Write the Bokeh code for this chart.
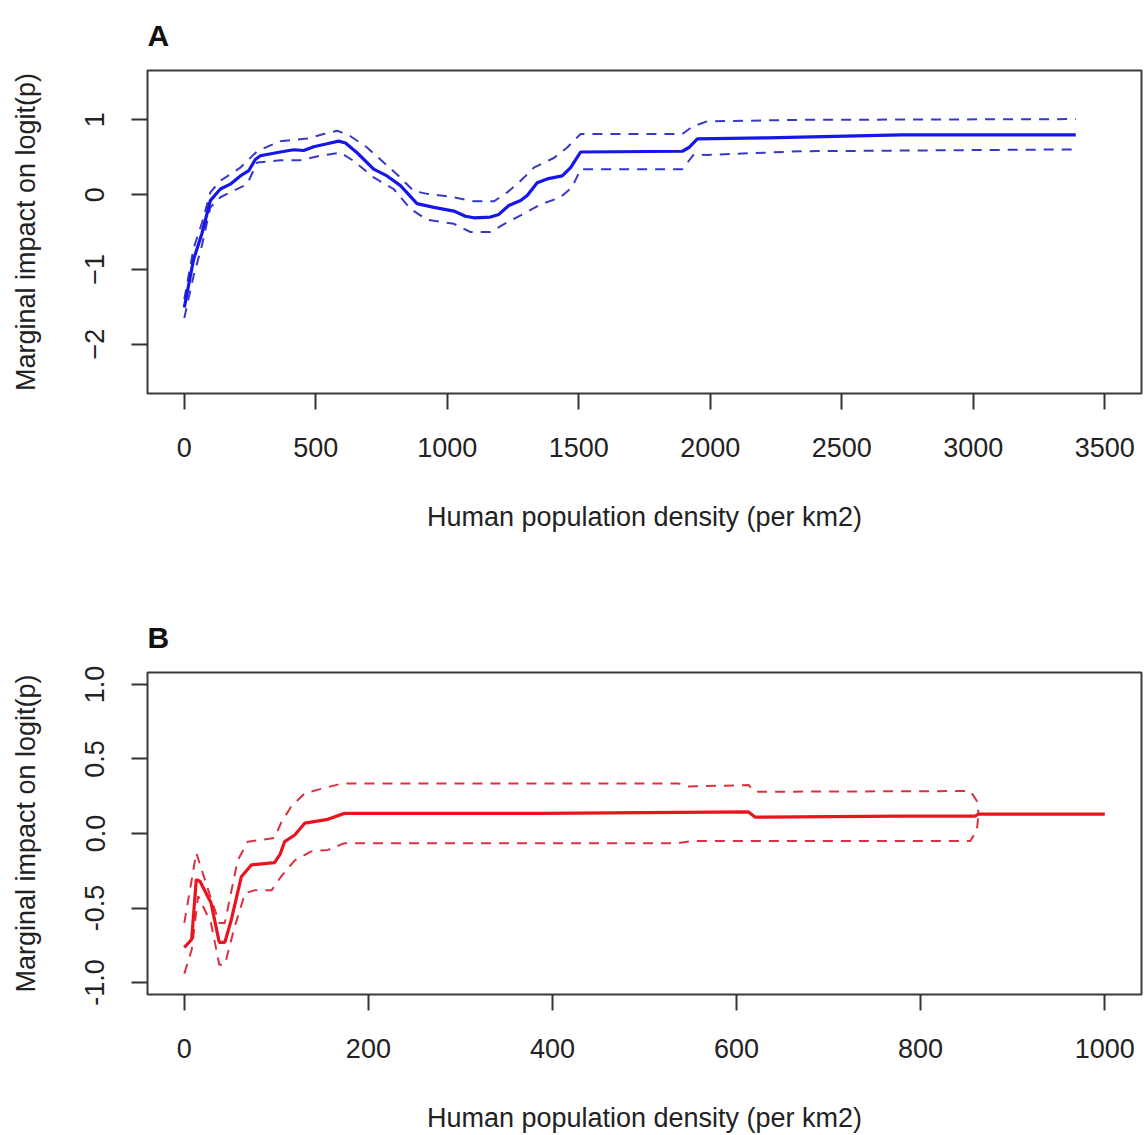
from bokeh.plotting import figure
from bokeh.layouts import column
from bokeh.models import Range1d, FixedTicker
from bokeh.embed import file_html
from bokeh.resources import INLINE

# ---------------- Panel A data ----------------
a_fit_x = [0, 35, 67, 99, 137, 175, 213, 245, 270, 289, 365, 416, 454, 492, 543, 587, 613, 657, 720, 771,
           822, 885, 949, 1025, 1069, 1101, 1164, 1196, 1234, 1279, 1304, 1342, 1380, 1437, 1469, 1507,
           1894, 1919, 1951, 2217, 2471, 2725, 3390]
a_fit_y = [-1.51, -0.87, -0.52, -0.08, 0.075, 0.14, 0.25, 0.32, 0.47, 0.52, 0.57, 0.60, 0.59, 0.64, 0.68,
           0.715, 0.69, 0.56, 0.34, 0.25, 0.12, -0.12, -0.17, -0.22, -0.29, -0.31, -0.30, -0.265, -0.146,
           -0.08, -0.013, 0.16, 0.21, 0.25, 0.36, 0.57, 0.58, 0.63, 0.745, 0.76, 0.78, 0.80, 0.80]
a_up_x = [0, 35, 67, 99, 137, 213, 277, 365, 467, 530, 581, 632, 695, 746, 809, 872, 923, 1025, 1101, 1177,
          1228, 1279, 1329, 1405, 1456, 1507, 1894, 1932, 1989, 2344, 3390]
a_up_y = [-1.40, -0.72, -0.38, 0.03, 0.185, 0.36, 0.58, 0.715, 0.75, 0.81, 0.855, 0.78, 0.63, 0.47, 0.27,
          0.05, 0.01, -0.035, -0.09, -0.09, 0.03, 0.185, 0.36, 0.49, 0.63, 0.81, 0.81, 0.91, 0.98, 1.00, 1.01]
a_lo_x = [0, 35, 67, 99, 137, 175, 239, 277, 365, 441, 518, 594, 644, 720, 796, 860, 923, 1025, 1088, 1164,
          1228, 1291, 1355, 1431, 1475, 1507, 1894, 1938, 1989, 2344, 3390]
a_lo_y = [-1.65, -1.09, -0.68, -0.17, -0.035, 0.03, 0.14, 0.43, 0.46, 0.46, 0.52, 0.56, 0.45, 0.23, 0.075,
          -0.19, -0.335, -0.39, -0.50, -0.50, -0.37, -0.255, -0.13, -0.035, 0.10, 0.34, 0.34, 0.54, 0.53,
          0.58, 0.605]
a_xticks = [0, 500, 1000, 1500, 2000, 2500, 3000, 3500]
a_yticks = [-2, -1, 0, 1]

# ---------------- Panel B data ----------------
b_fit_x = [0, 8, 13, 17, 29, 38, 44, 51, 62, 73, 98, 104, 109, 120, 131, 156, 174, 388, 613, 620, 779, 859,
           863, 1000]
b_fit_y = [-0.765, -0.71, -0.31, -0.32, -0.465, -0.73, -0.73, -0.58, -0.29, -0.21, -0.195, -0.14, -0.055,
           -0.01, 0.07, 0.095, 0.135, 0.135, 0.145, 0.11, 0.117, 0.117, 0.13, 0.13]
b_up_x = [0, 13, 26, 38, 44, 58, 69, 98, 105, 116, 131, 149, 171, 537, 547, 613, 620, 854, 861, 863, 1000]
b_up_y = [-0.60, -0.13, -0.38, -0.60, -0.60, -0.18, -0.055, -0.03, 0.07, 0.18, 0.27, 0.30, 0.335, 0.335,
          0.315, 0.325, 0.28, 0.285, 0.22, 0.13, 0.13]
b_lo_x = [0, 8, 15, 29, 38, 44, 55, 66, 77, 95, 105, 120, 138, 156, 174, 537, 551, 854, 861, 863, 1000]
b_lo_y = [-0.94, -0.78, -0.42, -0.60, -0.88, -0.88, -0.62, -0.40, -0.38, -0.38, -0.29, -0.18, -0.12, -0.11,
          -0.065, -0.065, -0.05, -0.05, 0.02, 0.13, 0.13]
b_xticks = [0, 200, 400, 600, 800, 1000]
b_yticks = [-1.0, -0.5, 0.0, 0.5, 1.0]
b_ytick_labels = ["-1.0", "-0.5", "0.0", "0.5", "1.0"]

X_TITLE = "Human population density (per km2)"
Y_TITLE = "Marginal impact on logit(p)"
FONT = "Liberation Sans"


def make_panel(letter, xr, yr, xticks, yticks, height, border_top, border_bottom, ylabels=None):
    p = figure(width=1144, height=height, output_backend="svg", toolbar_location=None,
               x_range=Range1d(*xr), y_range=Range1d(*yr),
               min_border_left=147, min_border_right=3, min_border_top=border_top,
               min_border_bottom=border_bottom)
    p.background_fill_color = "white"
    p.border_fill_color = "white"
    p.outline_line_color = "#3a3a3a"
    p.outline_line_width = 2
    p.grid.visible = False

    p.title.text = letter
    p.title.align = "left"
    p.title.vertical_align = "top"
    p.title.offset = 0
    p.title.text_font = FONT
    p.title.text_font_size = "30px"
    p.title.text_font_style = "bold"
    p.title.text_color = "#111111"
    p.title.standoff = 34

    xa = p.below[0]
    ya = p.left[0]
    for ax in (xa, ya):
        ax.axis_line_color = None
        ax.major_tick_line_color = "#333333"
        ax.major_tick_line_width = 2
        ax.major_tick_out = 16
        ax.major_tick_in = 0
        ax.minor_tick_line_color = None
        ax.major_label_text_font = FONT
        ax.major_label_text_font_size = "27px"
        ax.major_label_text_color = "#222222"
        ax.axis_label_text_font = FONT
        ax.axis_label_text_font_size = "27px"
        ax.axis_label_text_font_style = "normal"
        ax.axis_label_text_color = "#222222"

    xa.ticker = FixedTicker(ticks=xticks)
    ya.ticker = FixedTicker(ticks=yticks)
    if ylabels is not None:
        ya.major_label_overrides = {t: l for t, l in zip(yticks, ylabels)}
    xa.axis_label = X_TITLE
    ya.axis_label = Y_TITLE
    xa.major_label_standoff = 28
    xa.axis_label_standoff = 42
    ya.major_label_orientation = "vertical"
    ya.major_label_standoff = 27
    ya.axis_label_standoff = 42
    return p


# frame A: y 70..393 ; frame B: y 672..995 ; frames x 147..1141
pa = make_panel("A", (-140, 3640), (-2.66, 1.66), a_xticks, a_yticks, 600, 70, 207)
blue = "#1616e8"
blue_band = "#3838c8"
pa.line(a_up_x, a_up_y, line_color=blue_band, line_width=2, line_dash="10 8")
pa.line(a_lo_x, a_lo_y, line_color=blue_band, line_width=2, line_dash="10 8")
pa.line(a_fit_x, a_fit_y, line_color=blue, line_width=3.2)

pb = make_panel("B", (-40, 1040), (-1.08, 1.08), b_xticks, b_yticks, 535, 72, 140, b_ytick_labels)
red = "#e8141e"
red_band = "#dc3040"
pb.line(b_up_x, b_up_y, line_color=red_band, line_width=2, line_dash="10 8")
pb.line(b_lo_x, b_lo_y, line_color=red_band, line_width=2, line_dash="10 8")
pb.line(b_fit_x, b_fit_y, line_color=red, line_width=3.2)

layout = column(pa, pb, spacing=0)
open("out.html", "w").write(file_html(layout, INLINE))
